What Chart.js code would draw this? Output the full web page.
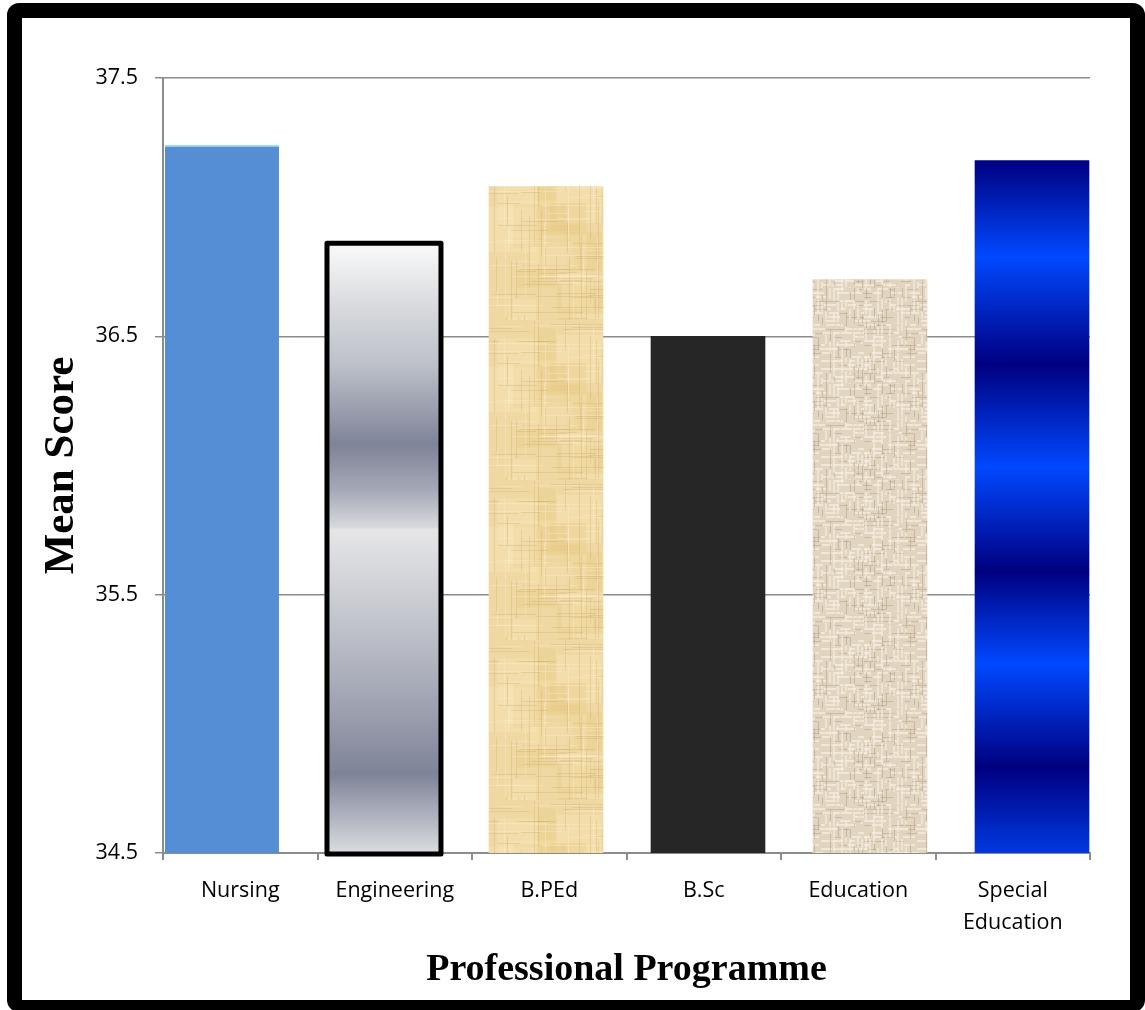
<!DOCTYPE html>
<html>
<head>
<meta charset="utf-8">
<script src="https://cdn.jsdelivr.net/npm/chart.js@4/dist/chart.umd.min.js"></script>
<style>
  html, body { margin: 0; padding: 0; background: #fff; }
  #wrap { position: relative; width: 1145px; height: 1010px; overflow: hidden; background: #fff; }
  #frame {
    position: absolute; left: 7px; top: 3px; width: 1138px; height: 1009px;
    box-sizing: border-box; border: 15px solid #000; border-bottom-width: 12px;
    border-radius: 12px; background: #fff;
  }
  #chart { position: absolute; left: 0; top: 0; }
</style>
</head>
<body>
<div id="wrap">
  <div id="frame"></div>
  <canvas id="chart" width="1145" height="1010"></canvas>
</div>
<script>
// Mean score per professional programme
const programmes = ['Nursing', 'Engineering', 'B.PEd', 'B.Sc', 'Education', ['Special', 'Education']];
const meanScores = [37.24, 36.86, 37.08, 36.50, 36.72, 37.18];
const axisMin = 34.5;
const axisMax = 37.5;
const axisStep = 1;

// Small deterministic generator used only for the fabric textures
function makeRng(seed) {
  let s = seed >>> 0;
  return () => (s = (s * 1664525 + 1013904223) >>> 0) / 4294967296;
}

function softened(src, blur) {
  const c = document.createElement('canvas');
  c.width = src.width; c.height = src.height;
  const g = c.getContext('2d');
  // draw the tile with its neighbours so the blur wraps cleanly
  g.filter = `blur(${blur}px)`;
  for (let dx = -1; dx <= 1; dx++)
    for (let dy = -1; dy <= 1; dy++)
      g.drawImage(src, dx * src.width, dy * src.height);
  return c;
}

function papyrusPattern(ctx) {
  const c = document.createElement('canvas');
  c.width = 160; c.height = 160;
  const g = c.getContext('2d');
  const rnd = makeRng(7);
  g.fillStyle = '#efd8a2';
  g.fillRect(0, 0, 160, 160);
  for (let i = 0; i < 25; i++) {
    g.fillStyle = rnd() < 0.5 ? 'rgba(250,232,192,0.3)' : 'rgba(226,196,120,0.25)';
    g.fillRect(rnd() * 160, rnd() * 160, 15 + rnd() * 40, 15 + rnd() * 40);
  }
  for (let i = 0; i < 160; i++) {
    const dark = rnd() < 0.6;
    g.fillStyle = dark ? 'rgba(200,168,95,0.3)' : 'rgba(255,242,210,0.35)';
    if (rnd() < 0.5) g.fillRect(rnd() * 160, Math.floor(rnd() * 160), 15 + rnd() * 70, 1);
    else g.fillRect(Math.floor(rnd() * 160), rnd() * 160, 1, 15 + rnd() * 70);
  }
  return ctx.createPattern(softened(c, 0.7), 'repeat');
}

function burlapPattern(ctx) {
  const c = document.createElement('canvas');
  c.width = 96; c.height = 96;
  const g = c.getContext('2d');
  const rnd = makeRng(31);
  g.fillStyle = '#e2d5c0';
  g.fillRect(0, 0, 96, 96);
  // horizontal threads
  for (let y = 0; y < 96; y += 4) {
    let x = 0;
    while (x < 96) {
      const len = 3 + Math.floor(rnd() * 10);
      const r = rnd();
      if (r < 0.35) { g.fillStyle = 'rgba(250,244,232,0.6)'; g.fillRect(x, y, len, 2); }
      else if (r < 0.6) { g.fillStyle = 'rgba(160,138,108,0.35)'; g.fillRect(x, y + 1, len, 1); }
      x += len + 1;
    }
  }
  // vertical threads
  for (let x = 1; x < 96; x += 4) {
    let y = 0;
    while (y < 96) {
      const len = 3 + Math.floor(rnd() * 12);
      const r = rnd();
      if (r < 0.3) { g.fillStyle = 'rgba(250,244,232,0.5)'; g.fillRect(x, y, 2, len); }
      else if (r < 0.55) { g.fillStyle = 'rgba(150,128,100,0.35)'; g.fillRect(x + 1, y, 1, len); }
      y += len + 1;
    }
  }
  return ctx.createPattern(softened(c, 0.5), 'repeat');
}

function barSpan(chart, value) {
  const y = chart.scales.y;
  return { top: y.getPixelForValue(value), bottom: y.getPixelForValue(axisMin) };
}

function chromeGradient(chart, value) {
  const { top, bottom } = barSpan(chart, value);
  const g = chart.ctx.createLinearGradient(0, top, 0, bottom);
  g.addColorStop(0.00, '#fafafa');
  g.addColorStop(0.10, '#d9dbdf');
  g.addColorStop(0.20, '#bcc0c8');
  g.addColorStop(0.33, '#7f8398');
  g.addColorStop(0.40, '#a2a6b4');
  g.addColorStop(0.465, '#d6d8dd');
  g.addColorStop(0.47, '#e6e6e8');
  g.addColorStop(0.56, '#d0d2d7');
  g.addColorStop(0.72, '#a9adb9');
  g.addColorStop(0.87, '#7f8398');
  g.addColorStop(1.00, '#dadce0');
  return g;
}

function sapphireGradient(chart, value) {
  const { top, bottom } = barSpan(chart, value);
  const g = chart.ctx.createLinearGradient(0, top, 0, bottom);
  const dark = '#000080', bright = '#0048ff';
  g.addColorStop(0.000, dark);
  g.addColorStop(0.139, bright);
  g.addColorStop(0.294, dark);
  g.addColorStop(0.443, bright);
  g.addColorStop(0.592, dark);
  g.addColorStop(0.727, bright);
  g.addColorStop(0.876, dark);
  g.addColorStop(1.000, '#0038e0');
  return g;
}

let papyrus = null, burlap = null;

function fillFor(ctx) {
  const chart = ctx.chart;
  if (!chart.chartArea || !chart.scales.y) return '#cccccc';
  const i = ctx.dataIndex;
  const v = meanScores[i];
  switch (i) {
    case 0: return '#558ed5';
    case 1: return chromeGradient(chart, v);
    case 2: return papyrus || (papyrus = papyrusPattern(chart.ctx));
    case 3: return '#262626';
    case 4: return burlap || (burlap = burlapPattern(chart.ctx));
    default: return sapphireGradient(chart, v);
  }
}

// Heavy outline around the Engineering bar, centred on its edge
const outlinePlugin = {
  id: 'engineeringOutline',
  afterDatasetsDraw(chart) {
    const bar = chart.getDatasetMeta(0).data[1];
    if (!bar) return;
    const { x, y, width } = bar.getProps(['x', 'y', 'width'], true);
    const bottom = chart.scales.y.getPixelForValue(axisMin);
    const c = chart.ctx;
    c.save();
    c.strokeStyle = '#000';
    c.lineWidth = 5;
    c.lineJoin = 'round';
    c.strokeRect(x - width / 2, y, width, bottom - y + 1);
    c.restore();
  }
};

const tickFont = { family: '"Open Sans", "Noto Sans", sans-serif', size: 21.5, lineHeight: 1.47 };

new Chart(document.getElementById('chart'), {
  type: 'bar',
  data: {
    labels: programmes,
    datasets: [{
      data: meanScores.map((v, i) => ({ x: i, y: v })),
      xAxisID: 'xb',
      backgroundColor: fillFor,
      borderColor: (ctx) => ctx.dataIndex === 0 ? '#a6dcf6' : 'rgba(0,0,0,0)',
      borderWidth: (ctx) => ctx.dataIndex === 0 ? { top: 2, left: 0, right: 0, bottom: 0 } : 0,
      borderSkipped: false,
      barThickness: 114
    }]
  },
  options: {
    responsive: false,
    animation: false,
    events: [],
    layout: { padding: { left: 22, right: 55, top: 78, bottom: 0 } },
    plugins: { legend: { display: false }, tooltip: { enabled: false } },
    scales: {
      // hidden placement axis for the bars (bars sit a little wider apart than the label slots)
      xb: {
        type: 'linear',
        display: false,
        offset: false,
        min: -0.364,
        max: 5.358,
        afterBuildTicks(scale) { scale.ticks = programmes.map((_, i) => ({ value: i })); }
      },
      x: {
        type: 'category',
        afterFit(scale) { scale.height = 157; },
        border: { display: true, color: '#8c8c8c', width: 2 },
        grid: { display: true, drawOnChartArea: false, drawTicks: true, tickLength: 7, color: '#8c8c8c', lineWidth: 2, offset: true },
        ticks: { color: '#000', font: tickFont, padding: 15, maxRotation: 0, autoSkip: false },
        title: {
          display: true,
          text: 'Professional Programme',
          color: '#000',
          font: { family: '"Liberation Serif", "Times New Roman", serif', size: 38, weight: 'bold', lineHeight: 1.2 },
          padding: { top: 0, bottom: 17 }
        }
      },
      y: {
        min: axisMin,
        max: axisMax,
        afterFit(scale) { scale.width = 141; },
        border: { display: true, color: '#8c8c8c', width: 2 },
        grid: { color: '#8c8c8c', lineWidth: 1.5, drawTicks: true, tickLength: 8 },
        ticks: { stepSize: axisStep, color: '#000', font: tickFont, padding: 17, callback: (v) => v.toFixed(1) },
        title: {
          display: true,
          text: 'Mean Score',
          color: '#000',
          font: { family: '"Liberation Serif", "Times New Roman", serif', size: 43, weight: 'bold', lineHeight: 1.2 },
          padding: { top: 14, bottom: 0 }
        }
      }
    }
  },
  plugins: [outlinePlugin]
});
</script>
</body>
</html>
